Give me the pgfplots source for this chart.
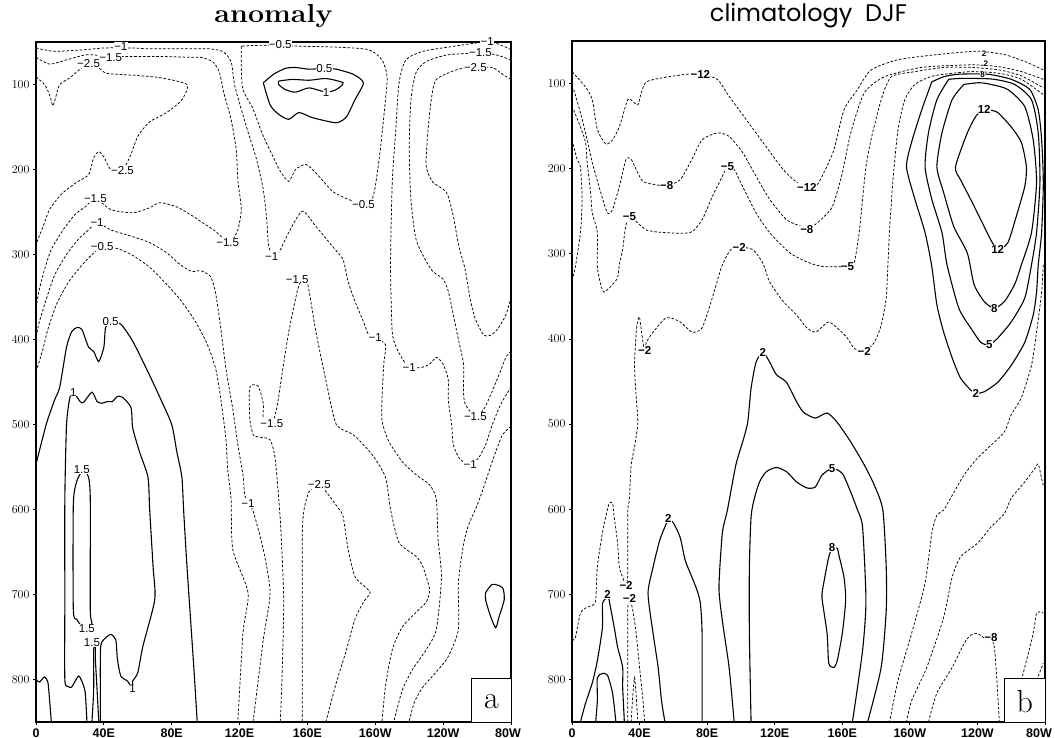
\documentclass[border=0pt]{standalone}
\usepackage{fontspec}
\usepackage{pgfplots}
\pgfplotsset{compat=1.18}
\newfontfamily\lbl{Liberation Sans}
\newfontfamily\ttlsans{Poppins}
\pgfplotsset{
  pos/.style={black, line width=1.1pt, no marks, smooth, tension=0.4},
  neg/.style={black, line width=0.75pt, no marks, smooth, tension=0.4, dash pattern=on 2.6pt off 1.8pt},
  panel/.style={anchor=south west, scale only axis,
    xmin=0, xmax=280, ymin=50, ymax=850, y dir=reverse,
    axis line style={line width=1.6pt},
    tick style={line width=0.8pt, black}, tick align=outside, major tick length=3pt,
    xtick={0,40,...,280},
    ytick={100,200,...,800},
    xtick pos=bottom, ytick pos=left,
    ticklabel style={font=\lbl\bfseries\fontsize{12.5}{12.5}\selectfont},
    clip mode=individual,
    title style={at={(0.5,1)}, anchor=base, yshift=14pt},
  }
}
\newcommand{\cl}[3]{\node[font=\lbl\fontsize{11.5}{11.5}\selectfont, fill=white, inner sep=0.3pt] at (axis cs:#1,#2) {#3};}
\newcommand{\cb}[3]{\node[font=\lbl\bfseries\fontsize{11.5}{11.5}\selectfont, fill=white, inner sep=0.3pt] at (axis cs:#1,#2) {#3};}
\newcommand{\cs}[3]{\node[font=\lbl\bfseries\fontsize{8}{8}\selectfont, fill=white, inner sep=0pt] at (axis cs:#1,#2) {#3};}
\begin{document}
\begin{tikzpicture}[x=1pt,y=1pt]
\useasboundingbox (0,0) rectangle (1055,738);
% ================= LEFT PANEL =================
\begin{axis}[panel, at={(36pt,16pt)}, width=475pt, height=680pt,
  xticklabels={0,40E,80E,120E,160E,160W,120W,\hspace*{-6pt}80W},
  title={\scalebox{1.1}[1]{\bfseries\fontsize{26}{26}\selectfont anomaly}}]
% -1 top-left, hump, down
\addplot[neg] coordinates {(0,57) (11,61) (29,59) (40,57) (56,57) (67,58) (85,58) (97,58) (102,58) (110,61) (115,73) (117,100) (121,129) (125,156) (130,188) (134,224) (136,259) (137,288) (139,300) (143,298) (149,274) (157,249) (165,267) (175,291) (181,306) (184,332) (188,355) (193,379) (196,394) (200,398) (206,406) (205,429) (204,468) (204,496) (208,520) (216,544) (224,559) (232,571) (236,588) (237,635) (239,680) (236,741) (230,765) (222,788) (216,812) (211,849)};
% -1.5 top-left
\addplot[neg] coordinates {(0,68) (8,76) (18,71) (30,65) (44,67) (54,67) (73,67) (91,68) (97,68) (104,73) (108,85) (111,112) (115,141) (118,176) (119,212) (121,247) (119,271) (116,282) (113,286) (106,273) (97,261) (91,253) (83,244) (73,239) (67,245) (57,251) (44,247) (35,234) (29,244) (23,253) (16,271) (9,294) (5,318) (2,341) (0,362)};
% -2.5 top-left
\addplot[neg] coordinates {(0,91) (5,100) (8,112) (10,125) (12,112) (14,100) (20,92) (26,82) (32,74) (38,82) (42,87) (57,89) (73,92) (89,100) (86,118) (77,133) (67,144) (60,161) (56,182) (51,201) (44,200) (40,185) (37,179) (34,186) (31,206) (24,215) (15,229) (8,247) (4,268) (0,288)};
% -1 mid-left
\addplot[neg] coordinates {(0,397) (2,379) (6,353) (11,324) (18,300) (25,282) (31,271) (36,262) (44,271) (57,279) (67,286) (77,298) (85,312) (92,320) (97,319) (103,326) (106,347) (109,388) (112,435) (116,482) (119,524) (122,559) (123,582) (125,593) (128,602) (134,647) (138,698) (134,753) (128,849)};
% -0.5 mid-left
\addplot[neg] coordinates {(0,438) (4,412) (7,388) (12,359) (19,333) (26,315) (33,300) (39,291) (48,293) (57,301) (67,315) (76,333) (85,353) (94,379) (101,406) (106,435) (109,471) (112,518) (113,553) (115,588) (116,647) (125,698) (122,745) (119,849)};
% -0.5 top closed
\addplot[neg] coordinates {(121,55) (121,79) (122,106) (128,129) (133,156) (139,182) (144,202) (149,214) (153,200) (159,194) (165,204) (175,226) (184,235) (193,241) (198,235) (200,220) (203,176) (206,118) (207,91) (204,71) (196,59) (177,56) (156,55) (144,54) (130,54) (121,55)};
% 0.5 ring
\addplot[pos] coordinates {(134,98) (140,88) (147,81) (153,80) (161,82) (170,81) (177,82) (187,88) (193,98) (188,118) (183,138) (177,145) (163,139) (155,133) (149,141) (143,135) (138,124) (134,98)};
% 1 ring
\addplot[pos] coordinates {(143,96) (151,94) (161,95) (171,93) (181,98) (177,106) (171,109) (161,104) (153,109) (147,106) (143,100) (143,96)};
% -1 right
\addplot[neg] coordinates {(280,59) (272,52) (264,50) (243,56) (228,61) (218,71) (214,98) (212,156) (210,215) (209,312) (210,391) (213,412) (218,429) (220,433) (227,433) (232,429) (236,421) (240,429) (243,447) (243,471) (245,500) (246,524) (250,541) (256,547) (261,539) (265,524) (269,500) (274,476) (279,459) (280,456)};
% -1.5 right
\addplot[neg] coordinates {(280,71) (271,65) (262,63) (243,65) (230,73) (224,86) (221,118) (220,176) (221,235) (224,282) (230,308) (234,320) (240,329) (243,343) (246,371) (249,400) (252,429) (252,461) (253,476) (259,491) (264,482) (268,465) (273,441) (277,421) (280,414)};
% -2.5 right
\addplot[neg] coordinates {(280,94) (275,88) (269,80) (259,80) (249,82) (236,94) (233,118) (231,156) (230,196) (234,215) (242,227) (246,255) (249,288) (253,318) (256,353) (259,376) (264,395) (268,395) (272,388) (277,371) (280,350)};
% -1.5 apex + finger
\addplot[neg] coordinates {(144,849) (145,800) (146,706) (144,612) (141,541) (138,518) (132,515) (128,512) (126,492) (126,456) (131,455) (134,476) (134,496) (139,499) (142,480) (145,441) (149,391) (154,343) (156,332) (159,327) (161,343) (165,391) (171,449) (177,500) (187,512) (198,535) (206,562) (209,600) (214,639) (224,655) (228,667) (232,694) (230,709) (224,721) (216,738) (210,765) (206,808) (204,849)};
% -2.5 bottom
\addplot[neg] coordinates {(157,849) (157,706) (157,627) (158,600) (161,579) (167,571) (171,579) (178,598) (181,608) (184,647) (188,679) (194,691) (197,698) (193,709) (188,729) (183,765) (177,804) (171,849)};
% -0.5 bottom right
\addplot[neg] coordinates {(280,502) (275,512) (271,532) (267,555) (263,579) (259,600) (255,618) (252,641) (249,686) (249,741) (243,773) (236,791) (228,809) (223,827) (220,849)};
% small positive loop
\addplot[pos] coordinates {(265,698) (269,688) (275,692) (276,706) (273,726) (271,739) (268,726) (265,706) (265,698)};
% 0.5 left
\addplot[pos] coordinates {(0,547) (6,500) (11,471) (14,456) (18,409) (21,391) (24,386) (27,388) (31,409) (34,414) (37,426) (40,409) (41,386) (44,379) (50,382) (57,402) (66,438) (73,468) (80,500) (83,532) (86,562) (87,600) (89,667) (93,785) (95,849)};
% 1 left
\addplot[pos] coordinates {(30,849) (29,815) (27,802) (25,796) (21,809) (19,808) (17,800) (17,706) (17,588) (18,500) (20,468) (22,462) (26,473) (28,474) (33,462) (36,473) (39,475) (42,473) (45,473) (48,467) (51,468) (56,480) (57,504) (61,532) (66,562) (67,600) (69,667) (70,706) (63,761) (60,792) (57,802) (57,811) (54,802) (50,796) (48,776) (47,753) (44,747) (40,753) (38,765) (38,849)};
% 1.5 loop
\addplot[pos] coordinates {(27,555) (24,567) (22,594) (22,718) (24,729) (27,738) (30,744) (33,733) (32,718) (32,588) (31,562) (29,555) (27,555)};
% 1.5 spike
\addplot[pos] coordinates {(33,849) (34,812) (34,765) (35,762) (35,776) (36,812) (37,849)};
% bottom-left solid
\addplot[pos] coordinates {(0,800) (2,803) (5,797) (7,803) (8,824) (9,849)};
% labels
\cl{50}{55}{−1} \cl{44}{68}{−1.5} \cl{31}{75}{−2.5} \cl{144}{53}{−0.5}
\cl{170}{81}{0.5} \cl{171}{109}{1}
\cl{266}{49}{−1} \cl{262}{63}{−1.5} \cl{259}{80}{−2.5}
\cl{51}{201}{−2.5} \cl{193}{241}{−0.5}
\cl{35}{234}{−1.5} \cl{36}{262}{−1} \cl{39}{291}{−0.5}
\cl{113}{286}{−1.5} \cl{139}{302}{−1} \cl{154}{329}{−1.5}
\cl{200}{398}{−1} \cl{220}{433}{−1} \cl{259}{491}{−1.5} \cl{256}{547}{−1}
\cl{139}{499}{−1.5} \cl{125}{593}{−1} \cl{167}{571}{−2.5}
\cl{44}{379}{0.5} \cl{22}{462}{1} \cl{27}{553}{1.5} \cl{30}{740}{1.5} \cl{33}{757}{1.5} \cl{57}{811}{1}
\draw[line width=1pt, fill=white] (axis cs:257,799) rectangle (axis cs:280,850);
\node[font=\fontsize{32}{32}\selectfont] at (axis cs:268.5,826) {a};
\end{axis}
% ================= RIGHT PANEL =================
\begin{axis}[panel, at={(572pt,16pt)}, width=473pt, height=681pt,
  xticklabels={0,40E,80E,120E,160E,160W,120W,\hspace*{-12pt}80W},
  title={\ttlsans\fontsize{24}{24}\selectfont climatology\ \ DJF}]
% -12
\addplot[neg] coordinates {(0,86) (8,104) (12,119) (15,154) (20,171) (24,166) (28,151) (33,119) (36,121) (39,125) (41,111) (44,98) (54,93) (68,89) (76,89) (86,95) (93,115) (103,142) (113,169) (125,201) (133,216) (139,222) (145,219) (149,205) (155,178) (161,131) (169,107) (177,84) (193,72) (216,66) (240,62) (256,66) (268,74) (279,84)};
% -8
\addplot[neg] coordinates {(1,107) (5,134) (9,166) (12,193) (17,228) (21,252) (24,248) (28,221) (32,189) (35,189) (38,201) (42,215) (50,219) (56,220) (64,213) (71,189) (77,166) (86,158) (93,162) (101,181) (109,209) (117,236) (127,260) (136,268) (139,272) (145,264) (154,245) (160,205) (165,158) (173,111) (185,92) (207,81) (236,78) (252,80) (266,86) (279,95)};
% -5
\addplot[neg] coordinates {(1,131) (5,151) (8,169) (9,193) (11,228) (12,252) (15,275) (15,315) (17,336) (19,345) (24,336) (27,328) (28,313) (30,295) (31,278) (32,266) (34,256) (38,262) (44,272) (54,275) (70,275) (77,260) (83,233) (89,209) (92,198) (96,201) (101,221) (109,252) (117,275) (129,299) (141,311) (149,315) (163,315) (167,311) (170,275) (172,236) (174,198) (177,166) (183,119) (189,92) (203,86) (220,81) (236,81) (253,84) (266,91) (279,105)};
% -2 left bump
\addplot[neg] coordinates {(0,166) (3,189) (5,198) (6,236) (5,275) (2,315) (0,331)};
% -2 main
\addplot[neg] coordinates {(0,754) (2,751) (5,722) (9,715) (12,713) (14,707) (15,668) (18,628) (20,609) (22,593) (24,593) (25,609) (27,640) (28,668) (30,680) (32,691) (33,678) (33,636) (33,601) (34,587) (35,548) (37,527) (39,498) (38,469) (37,431) (38,392) (39,378) (40,375) (42,404) (43,414) (44,404) (48,392) (56,375) (64,380) (71,392) (77,387) (83,352) (87,325) (89,313) (92,301) (95,293) (99,292) (107,295) (113,311) (117,333) (125,356) (133,372) (139,387) (144,392) (148,386) (152,380) (157,387) (163,399) (167,411) (173,415) (179,404) (183,384) (186,352) (187,313) (188,272) (190,213) (193,154) (197,119) (203,101) (214,91) (236,86) (253,88) (266,95) (279,113)};
% -2 inverted U and spike
\addplot[neg] coordinates {(33,850) (33,778) (33,719) (34,704) (36,719) (38,746) (40,786) (42,825) (43,850)};
\addplot[neg] coordinates {(35,850) (37,798) (39,850)};
% top-right solids
\addplot[pos] coordinates {(213,98) (207,131) (201,169) (198,198) (203,236) (209,275) (213,315) (216,360) (220,392) (225,422) (230,446) (236,460) (239,464) (244,462) (252,451) (260,431) (268,404) (273,372) (275,345) (276,313) (278,275) (279,216) (278,166) (276,131) (271,107) (260,95) (246,89) (229,89) (220,92) (213,98)};
\addplot[pos] coordinates {(223,95) (216,119) (211,158) (209,198) (213,236) (219,275) (222,313) (229,364) (236,387) (242,404) (247,407) (252,399) (260,380) (268,352) (272,313) (275,275) (277,216) (276,158) (272,119) (262,101) (250,95) (240,94) (229,94) (223,95)};
\addplot[pos] coordinates {(232,101) (225,119) (219,158) (216,198) (220,228) (226,268) (234,299) (238,336) (244,356) (250,364) (256,356) (262,336) (266,313) (272,275) (275,216) (273,166) (268,127) (258,107) (248,101) (241,99) (232,101)};
\addplot[pos] coordinates {(247,131) (240,136) (234,158) (227,198) (230,213) (236,236) (242,260) (248,284) (252,295) (258,287) (263,256) (268,221) (269,198) (266,169) (260,151) (252,134) (247,131)};
% big 2
\addplot[pos] coordinates {(96,850) (93,786) (89,731) (87,692) (89,628) (92,601) (97,548) (101,521) (104,498) (106,458) (109,427) (113,416) (117,427) (121,442) (127,451) (133,474) (137,486) (144,493) (151,487) (157,498) (165,521) (173,548) (179,572) (184,601) (186,668) (186,719) (183,786) (175,850)};
% 5
\addplot[pos] coordinates {(106,850) (105,746) (105,668) (106,609) (108,587) (111,568) (115,556) (121,551) (127,556) (133,568) (139,575) (144,574) (148,560) (154,552) (160,558) (165,580) (169,601) (172,621) (174,707) (172,766) (166,850)};
% 8 loop
\addplot[pos] coordinates {(154,645) (152,656) (149,687) (148,704) (151,746) (152,781) (155,786) (157,778) (160,746) (162,707) (161,680) (158,654) (157,646) (154,645)};
% 2 peak
\addplot[pos] coordinates {(55,850) (53,825) (51,786) (48,746) (45,699) (48,668) (52,636) (56,616) (57,611) (60,616) (64,633) (67,660) (70,675) (74,695) (76,711) (77,746) (77,850)};
% 2 small
\addplot[pos] coordinates {(5,850) (8,828) (12,804) (15,778) (18,739) (18,711) (20,705) (21,700) (22,707) (25,739) (27,762) (30,786) (30,809) (31,850)};
\addplot[pos] coordinates {(14,850) (15,825) (15,798) (18,793) (21,795) (24,816) (26,850)};
% lower right dashed
\addplot[neg] coordinates {(279,313) (278,345) (275,392) (272,431) (266,469) (260,489) (256,509) (248,525) (240,540) (232,560) (225,584) (220,601) (216,607) (213,628) (209,687) (201,746) (193,801) (188,850)};
\addplot[neg] coordinates {(279,572) (278,564) (276,547) (274,552) (268,568) (260,587) (256,605) (248,621) (240,640) (230,656) (225,680) (220,727) (210,786) (201,825) (198,850)};
\addplot[neg] coordinates {(211,850) (216,816) (225,786) (232,758) (236,748) (240,746) (244,751) (248,751) (250,762) (251,786) (252,816) (253,850)};
\addplot[neg] coordinates {(266,801) (269,778) (273,746) (275,722) (278,721) (279,722)};
\addplot[neg] coordinates {(275,801) (279,781)};
% labels
\cb{76}{89}{−12} \cb{139}{222}{−12} \cb{56}{220}{−8} \cb{139}{272}{−8}
\cb{34}{256}{−5} \cb{92}{198}{−5} \cb{163}{315}{−5}
\cb{99}{292}{−2} \cb{43}{414}{−2} \cb{173}{415}{−2} \cb{32}{690}{−2} \cb{34}{705}{−2}
\cb{113}{416}{2} \cb{154}{552}{5} \cb{154}{645}{8} \cb{57}{611}{2} \cb{21}{700}{2}
\cb{244}{131}{12} \cb{252}{295}{12} \cb{250}{364}{8} \cb{247}{407}{5} \cb{239}{464}{2}
\cb{248}{751}{−8}
\cs{244}{65}{2} \cs{245}{77}{2} \cs{243}{90}{8}
\draw[line width=1pt, fill=white] (axis cs:256,799) rectangle (axis cs:280,850);
\node[font=\fontsize{32}{32}\selectfont] at (axis cs:268,826) {b};
\end{axis}
\end{tikzpicture}
\end{document}
